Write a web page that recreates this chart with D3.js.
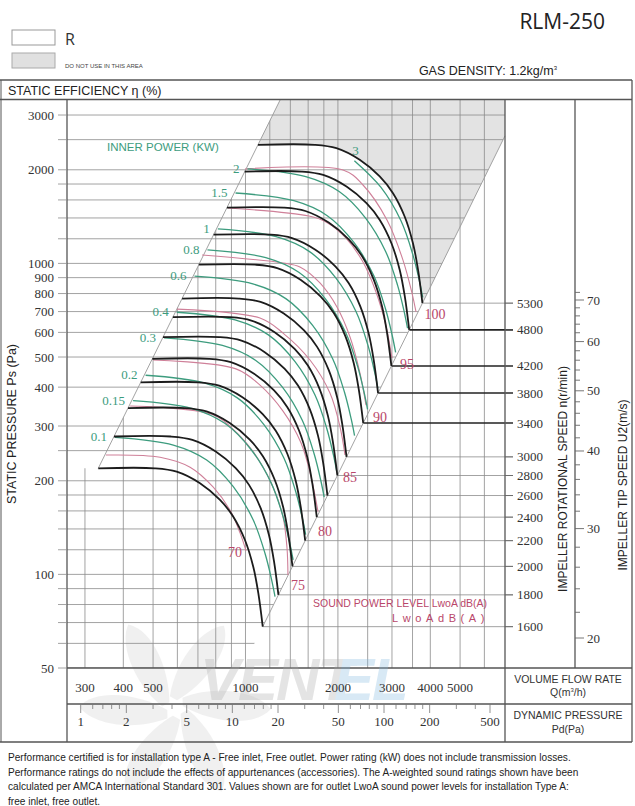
<!DOCTYPE html>
<html><head><meta charset="utf-8">
<script src="https://cdn.jsdelivr.net/npm/d3@7"></script>
<style>body{margin:0;background:#fff}svg{display:block}</style>
</head><body>
<svg id="c" width="635" height="806"></svg>
<script>
// ---------------- DATA ----------------
const psGrid   = [50,60,70,80,90,100,120,140,160,180,200,250,300,400,500,600,700,800,900,1000,1200,1400,1600,1800,2000,2500,3000];
const psLabels = [50,100,200,300,400,500,600,700,800,900,1000,2000,3000];
const qGrid    = [300,400,500,600,700,800,900,1000,1200,1400,1600,1800,2000,2500,3000,3500,4000,5000,6000];
const qLabels  = [300,400,500,1000,2000,3000,4000,5000];
const pdLabels = [1,2,5,10,20,50,100,200,500];
const pdTicks  = [1,1.2,1.4,1.6,1.8,2,3,4,5,6,7,8,9,10,12,14,16,18,20,30,40,50,60,70,80,90,100,120,140,160,180,200,300,400,500];
const speeds     = [1600,1800,2000,2200,2400,2600,2800,3000,3400,3800,4200,4800,5300];
const speedsBold = [3400,3800,4200,4800];
const tipLabels  = [20,30,40,50,60,70];
const tipTicks   = [20,22,24,26,28,30,32,34,36,38,40,42,44,46,48,50,52,54,56,58,60,62,64,66,68,70,72];
// fan curve at 1600 r/min (Q m3/h, Ps Pa)
const baseQ = [331.5,507.4,597,711,826,912.6,996,1060,1101,1138];
const baseP = [219.3,219.3,213.9,196.3,173.5,153.3,129,105.8,87,67.9];
// inner power line shape (equivalent 1800 r/min)
const powQ = [375.7,582,747.4,912.6,1060,1157.4,1217,1248];
const powP = [275.9,260.6,233.3,191.4,149.5,116.9,95.9,84.8];
const powerLabels = ["0.1","0.15","0.2","0.3","0.4","0.6","0.8","1","1.5","2","3"];
const powerSpeeds = [1800,2062,2265,2602,2860,3268,3602,3893,4447,4862,5450];
// sound power lines
const soundLabels = ["70","75","80","85","90","95","100"];
const soundQ = [
  [351,527,660,784,890,960,1004],
  [421,784,938,1090,1229,1325,1365,1375],
  [500,931,1115,1325,1516,1635,1723],
  [598,1115,1325,1622,1884,2032,2109],
  [722,1325,1504,1748,1986,2190,2360,2469],
  [877,1610,1829,2125,2414,2661,2869,3001],
  [996,2078,2414,2890,3258,3486,3593]
];
const soundP = [
  [242,238,221,191,161,136,119],
  [348,326,285,238,191,153,122,99.5],
  [489,458,406,335,265,206,159],
  [713,667,597,489,383,298,242],
  [1064,1003,974,865,724,580,444,350],
  [1507,1420,1359,1206,1010,809,629,496],
  [2012,1997,1787,1379,1025,803,698]
];
const footer = [
  "Performance certified is for installation type A - Free inlet, Free outlet. Power rating (kW) does not include transmission losses.",
  "Performance ratings do not include the effects of appurtenances (accessories). The A-weighted sound ratings shown have been",
  "calculated per AMCA International Standard 301. Values shown are for outlet LwoA sound power levels for installation Type A:",
  "free inlet, free outlet."
];

// ---------------- LAYOUT ----------------
const L = 67, R = 505, T = 100, B = 668;
const svg = d3.select("#c");
const SERIF = "'Liberation Serif','DejaVu Serif',serif";
const SANS  = "'Liberation Sans',Arial,sans-serif";
const GREEN = "#3d9c7e", PINKL = "#cf8099", PINKT = "#b9476a", GRID = "#8c8c8c", FRAME = "#555";

const x = d3.scaleLog().domain([262.2, 7003]).range([L, R]);
const y = d3.scaleLog().domain([50, 3353]).range([B, T]);
const pd = d3.scaleLog().domain([1, 500]).range([80.7, 490]);
const nS = d3.scaleLog().domain([1600, 5300]).range([y(baseP[9]), y(baseP[9] * (5300/1600) ** 2)]);
const tip = d3.scaleLog().domain([20, 70]).range([638, 300]);
const P = d => [x(d[0]), y(d[1])];
const line = d3.line().x(d => x(d[0])).y(d => y(d[1])).curve(d3.curveCatmullRom.alpha(0.5));

const s0 = [baseQ[0], baseP[0]];
const e0 = [baseQ[9], baseP[9]];
const rTop = Math.sqrt(y.domain()[1] / s0[1]);
const diagTop = [s0[0] * rTop, s0[1] * rTop * rTop];
const rRight = x.domain()[1] / e0[0];
const diagRight = [e0[0] * rRight, e0[1] * rRight * rRight];
const rLow = Math.sqrt(50 / e0[1]);
const diagLow = [e0[0] * rLow, 50];
const curveAt = n => { const r = n / 1600; return baseQ.map((q, i) => [q * r, baseP[i] * r * r]); };

// watermark fan (behind everything)
const wmB = svg.append("g").attr("opacity", 0.5);
[15, 75, 135, 195, 255, 315].forEach(a => {
  wmB.append("path").attr("d", "M0,-8 C22,-30 40,-70 26,-92 C8,-86 -12,-50 -8,-10Z")
    .attr("transform", `translate(175,708) rotate(${a})`).attr("fill", "#e2e2e2");
});

// clip paths
const defs = svg.append("defs");
const pts = a => a.map(p => p.join(",")).join(" ");
defs.append("clipPath").attr("id", "vclip").append("polygon")
  .attr("points", pts([[L, B], [L, y(s0[1])], P(s0), P(diagTop), [R, T], [R, B]]));
defs.append("clipPath").attr("id", "hclip").append("polygon")
  .attr("points", pts([[L, T], [R, T], P(diagRight), P(diagLow), [L, B]]));

// shaded "do not use" area
const c53 = curveAt(5300);
const rev = line(c53.slice().reverse()).replace(/^M/, "L");
svg.append("path")
  .attr("d", "M" + P(c53[0]) + "L" + P(diagTop) + "L" + [R, T] + "L" + P(diagRight) + rev + "Z")
  .attr("fill", "#e3e3e3");

// grid
const gH = svg.append("g").attr("clip-path", "url(#hclip)");
gH.selectAll("line").data(psGrid).join("line")
  .attr("x1", L).attr("x2", R).attr("y1", d => y(d)).attr("y2", d => y(d))
  .attr("stroke", GRID).attr("stroke-width", 0.8);
const gV = svg.append("g").attr("clip-path", "url(#vclip)");
gV.selectAll("line").data(qGrid).join("line")
  .attr("x1", d => x(d)).attr("x2", d => x(d)).attr("y1", T).attr("y2", B)
  .attr("stroke", GRID).attr("stroke-width", 0.8);

// speed lines from the curve end to the n axis
speeds.forEach(n => {
  const e = curveAt(n)[9];
  const bold = speedsBold.includes(n);
  svg.append("line").attr("x1", x(e[0])).attr("x2", 513).attr("y1", nS(n)).attr("y2", nS(n))
    .attr("stroke", bold ? "#222" : GRID).attr("stroke-width", bold ? 1.6 : 0.8);
});

// boundary diagonals
svg.append("line").attr("x1", x(s0[0])).attr("y1", y(s0[1])).attr("x2", x(diagTop[0])).attr("y2", y(diagTop[1]))
  .attr("stroke", "#999").attr("stroke-width", 0.9);
svg.append("line").attr("x1", x(e0[0])).attr("y1", y(e0[1])).attr("x2", x(diagRight[0])).attr("y2", y(diagRight[1]))
  .attr("stroke", "#999").attr("stroke-width", 0.9);

// sound power lines
const gS = svg.append("g");
soundQ.forEach((qs, i) => {
  gS.append("path").attr("d", line(qs.map((q, j) => [q, soundP[i][j]])))
    .attr("fill", "none").attr("stroke", PINKL).attr("stroke-width", 1.1);
});
const soundOff = [[-11, 6], [10, 15], [7, 24], [5, 27], [14, 17], [15, 11], [19, 7]];
soundLabels.forEach((t, i) => {
  const n = soundQ[i].length - 1;
  const p = P([soundQ[i][n], soundP[i][n]]);
  gS.append("text").attr("x", p[0] + soundOff[i][0]).attr("y", p[1] + soundOff[i][1])
    .attr("text-anchor", "middle").attr("font-family", SERIF).attr("font-size", 14).attr("fill", PINKT).text(t);
});

// inner power lines
const gP = svg.append("g");
powerSpeeds.forEach((s, i) => {
  const r = s / 1800;
  let ps = powQ.map((q, j) => [q * r, powP[j] * r * r]);
  if (i === powerSpeeds.length - 1) ps = ps.slice(2);
  gP.append("path").attr("d", line(ps)).attr("fill", "none").attr("stroke", GREEN).attr("stroke-width", 1.3);
  const p = P(ps[0]);
  if (i < powerSpeeds.length - 1) {
    gP.append("text").attr("x", p[0] - 8).attr("y", p[1] + 4).attr("text-anchor", "end")
      .attr("font-family", SERIF).attr("font-size", 13).attr("fill", GREEN).text(powerLabels[i]);
  } else {
    gP.append("text").attr("x", p[0] + 1).attr("y", p[1] - 6).attr("text-anchor", "middle")
      .attr("font-family", SERIF).attr("font-size", 13).attr("fill", GREEN).text(powerLabels[i]);
  }
});
svg.append("text").attr("x", 107).attr("y", 151).attr("font-family", SANS).attr("font-size", 11.5)
  .attr("fill", GREEN).text("INNER POWER (KW)");

// speed curves
const gB = svg.append("g");
speeds.forEach(n => {
  gB.append("path").attr("d", line(curveAt(n))).attr("fill", "none").attr("stroke", "#1c1c1c").attr("stroke-width", 1.8);
});

// sound legend text
svg.append("text").attr("x", 313).attr("y", 607).attr("font-family", SANS).attr("font-size", 10.5)
  .attr("fill", PINKT).text("SOUND POWER LEVEL LwoA dB(A)");
svg.append("text").attr("x", 392).attr("y", 622).attr("font-family", SANS).attr("font-size", 11)
  .attr("letter-spacing", 4.6).attr("fill", PINKT).text("LwoAdB(A)");

// ---------------- FRAME ----------------
const fr = (x1, y1, x2, y2, w) => svg.append("line").attr("x1", x1).attr("y1", y1).attr("x2", x2).attr("y2", y2)
  .attr("stroke", FRAME).attr("stroke-width", w || 1.3);
fr(0, 80, 632, 80); fr(0, 99.5, 632, 99.5); fr(0, 742, 632, 742);
fr(1, 80, 1, 742, 1); fr(632, 80, 632, 742);
fr(L, 99.5, L, 742); fr(R, 99.5, R, 742); fr(575, 99.5, 575, B);
fr(L, B, 632, B); fr(L, 704, 632, 704);

// left axis
svg.append("g").selectAll("line").data(psGrid).join("line")
  .attr("x1", 58).attr("x2", L).attr("y1", d => y(d)).attr("y2", d => y(d)).attr("stroke", GRID).attr("stroke-width", 0.8);
svg.append("g").selectAll("text").data(psLabels).join("text")
  .attr("x", 54).attr("y", d => y(d) + 4.5).attr("text-anchor", "end")
  .attr("font-family", SERIF).attr("font-size", 13).attr("fill", "#333").text(d => d);
svg.append("text").attr("transform", "translate(16,424) rotate(-90)").attr("text-anchor", "middle")
  .attr("font-family", SANS).attr("font-size", 12.5).attr("fill", "#222").text("STATIC PRESSURE Ps (Pa)");

// n axis
svg.append("g").selectAll("line").data(speeds).join("line")
  .attr("x1", R).attr("x2", 513).attr("y1", d => nS(d)).attr("y2", d => nS(d)).attr("stroke", "#666").attr("stroke-width", 0.9);
svg.append("g").selectAll("text").data(speeds).join("text")
  .attr("x", 517).attr("y", d => nS(d) + 4.5).attr("font-family", SERIF).attr("font-size", 13).attr("fill", "#333").text(d => d);
svg.append("text").attr("transform", "translate(567,479) rotate(-90)").attr("text-anchor", "middle")
  .attr("font-family", SANS).attr("font-size", 12).attr("fill", "#222").text("IMPELLER ROTATIONAL SPEED n(r/min)");

// tip speed axis
svg.append("g").selectAll("line").data(tipTicks).join("line")
  .attr("x1", 575).attr("x2", d => tipLabels.includes(d) ? 584 : 580).attr("y1", d => tip(d)).attr("y2", d => tip(d))
  .attr("stroke", "#666").attr("stroke-width", 0.9);
svg.append("g").selectAll("text").data(tipLabels).join("text")
  .attr("x", 587).attr("y", d => tip(d) + 4.5).attr("font-family", SERIF).attr("font-size", 13).attr("fill", "#333").text(d => d);
svg.append("text").attr("transform", "translate(627,485) rotate(-90)").attr("text-anchor", "middle")
  .attr("font-family", SANS).attr("font-size", 12).attr("fill", "#222").text("IMPELLER TIP SPEED U2(m/s)");

// watermark lettering (faint, under the axis labels)
const wm = svg.append("g").attr("opacity", 0.3);
wm.append("text").attr("x", 200).attr("y", 700).attr("font-family", SANS).attr("font-weight", "bold").attr("font-style", "italic")
  .attr("font-size", 60).attr("fill", "#a9a9a9").attr("letter-spacing", -2).text("VENT");
wm.append("text").attr("x", 334).attr("y", 700).attr("font-family", SANS).attr("font-weight", "bold").attr("font-style", "italic")
  .attr("font-size", 60).attr("fill", "#7fb8e0").attr("letter-spacing", -2).text("EL");

// bottom axes
svg.append("g").selectAll("text").data(qLabels).join("text")
  .attr("x", d => x(d)).attr("y", 692).attr("text-anchor", "middle")
  .attr("font-family", SERIF).attr("font-size", 13).attr("fill", "#333").text(d => d);
svg.append("g").selectAll("line").data(pdTicks).join("line")
  .attr("x1", d => pd(d)).attr("x2", d => pd(d)).attr("y1", 704).attr("y2", d => pdLabels.includes(d) ? 713 : 709)
  .attr("stroke", "#777").attr("stroke-width", 0.8);
svg.append("g").selectAll("text").data(pdLabels).join("text")
  .attr("x", d => pd(d)).attr("y", 726).attr("text-anchor", "middle")
  .attr("font-family", SERIF).attr("font-size", 13).attr("fill", "#333").text(d => d);
const rl = (t, yy) => svg.append("text").attr("x", 568).attr("y", yy).attr("text-anchor", "middle")
  .attr("font-family", SANS).attr("font-size", 10.5).attr("fill", "#333").text(t);
rl("VOLUME FLOW RATE", 683);
svg.append("text").attr("x", 568).attr("y", 696).attr("text-anchor", "middle").attr("font-family", SANS)
  .attr("font-size", 10.5).attr("fill", "#333").html("Q(m<tspan dy='-4' font-size='6'>3</tspan><tspan dy='4'>/h)</tspan>");
rl("DYNAMIC PRESSURE", 719); rl("Pd(Pa)", 733);

// ---------------- HEADER ----------------
svg.append("rect").attr("x", 12).attr("y", 30).attr("width", 43).attr("height", 15).attr("fill", "#fff").attr("stroke", "#999");
svg.append("rect").attr("x", 12).attr("y", 53).attr("width", 43).attr("height", 15).attr("fill", "#e0e0e0").attr("stroke", "#aaa");
svg.append("text").attr("x", 65).attr("y", 45).attr("font-family", "'Open Sans',sans-serif").attr("font-size", 16).attr("fill", "#333").text("R");
svg.append("text").attr("x", 65).attr("y", 68).attr("font-family", SANS).attr("font-size", 6).attr("fill", "#444").text("DO NOT USE IN THIS AREA");
svg.append("text").attr("x", 605).attr("y", 29).attr("text-anchor", "end").attr("font-family", "'Open Sans',sans-serif")
  .attr("font-size", 21).attr("fill", "#222").text("RLM-250");
svg.append("text").attr("x", 557).attr("y", 75).attr("text-anchor", "end").attr("font-family", SANS).attr("font-size", 12.5)
  .attr("fill", "#222").html("GAS DENSITY: 1.2kg/m<tspan dy='-5' font-size='6'>3</tspan>");
svg.append("text").attr("x", 8).attr("y", 95).attr("font-family", SANS).attr("font-size", 12.5).attr("fill", "#222")
  .text("STATIC EFFICIENCY η (%)");

// footer
svg.append("g").selectAll("text").data(footer).join("text")
  .attr("x", 8).attr("y", (d, i) => 761 + i * 14.6).attr("font-family", SANS).attr("font-size", 10.1).attr("fill", "#222").text(d => d);
</script>
</body></html>
